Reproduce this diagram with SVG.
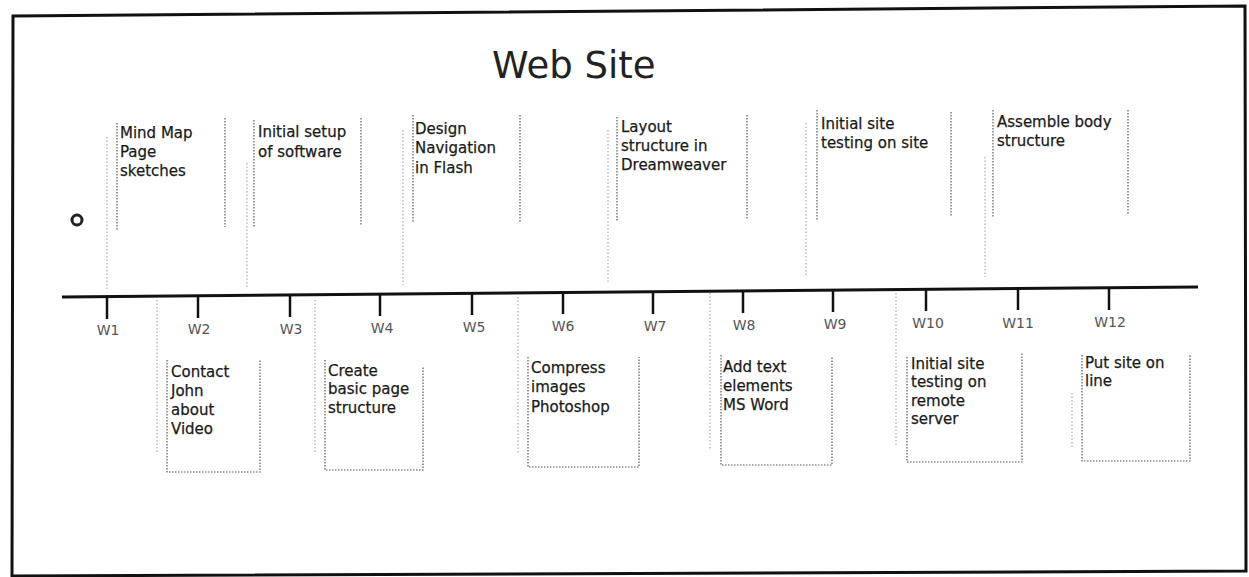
<svg xmlns="http://www.w3.org/2000/svg" width="1249" height="577" viewBox="0 0 1249 577">
<style>
.t{font-family:"DejaVu Sans","Liberation Sans",sans-serif;font-size:15px;fill:#1a1a1a;stroke:#1a1a1a;stroke-width:0.25}
.title{font-family:"DejaVu Sans","Liberation Sans",sans-serif;font-size:37px;fill:#222}
.wk{font-family:"DejaVu Sans","Liberation Sans",sans-serif;font-size:14px;fill:#555;text-anchor:middle}
.bx{fill:none;stroke:#555;stroke-width:1.2;stroke-dasharray:1.5 1.5}
.ld{fill:none;stroke:#999;stroke-width:1;stroke-dasharray:1.5 2}
.tick{stroke:#111;stroke-width:2.5}
</style>
<rect width="1249" height="577" fill="#fff"/>
<polygon id="frame" points="13,16 1245,6 1246,571 12,576" fill="none" stroke="#111" stroke-width="3"/>
<text id="title" class="title" x="492" y="78">Web Site</text>
<g id="marker-symbol"><circle cx="77" cy="220" r="5" fill="#fff" stroke="#222" stroke-width="3"/></g>

<g id="timeline">
<line x1="62" y1="297" x2="1198" y2="287" stroke="#111" stroke-width="3"/>
<line class="tick" x1="107" y1="296" x2="107" y2="319"/>
<line class="tick" x1="198" y1="295" x2="198" y2="318"/>
<line class="tick" x1="290" y1="294" x2="290" y2="317"/>
<line class="tick" x1="380" y1="293" x2="380" y2="316"/>
<line class="tick" x1="472" y1="292" x2="472" y2="315"/>
<line class="tick" x1="563" y1="292" x2="563" y2="314"/>
<line class="tick" x1="653" y1="291" x2="653" y2="314"/>
<line class="tick" x1="743" y1="290" x2="743" y2="313"/>
<line class="tick" x1="833" y1="289" x2="833" y2="312"/>
<line class="tick" x1="926" y1="288" x2="926" y2="311"/>
<line class="tick" x1="1018" y1="288" x2="1018" y2="310"/>
<line class="tick" x1="1109" y1="287" x2="1109" y2="310"/>
<text class="wk" x="108" y="335">W1</text>
<text class="wk" x="199" y="334">W2</text>
<text class="wk" x="291" y="334">W3</text>
<text class="wk" x="382" y="333">W4</text>
<text class="wk" x="474" y="332">W5</text>
<text class="wk" x="563" y="331">W6</text>
<text class="wk" x="655" y="331">W7</text>
<text class="wk" x="744" y="330">W8</text>
<text class="wk" x="835" y="329">W9</text>
<text class="wk" x="928" y="328">W10</text>
<text class="wk" x="1018" y="328">W11</text>
<text class="wk" x="1110" y="327">W12</text>
</g>

<g id="connectors">
<line class="ld" x1="107" y1="137" x2="107" y2="290"/>
<line class="ld" x1="247" y1="163" x2="247" y2="288"/>
<line class="ld" x1="403" y1="130" x2="403" y2="285"/>
<line class="ld" x1="608" y1="130" x2="608" y2="283"/>
<line class="ld" x1="806" y1="123" x2="806" y2="277"/>
<line class="ld" x1="985" y1="157" x2="985" y2="277"/>
<line class="ld" x1="157" y1="300" x2="157" y2="453"/>
<line class="ld" x1="315" y1="300" x2="315" y2="453"/>
<line class="ld" x1="518" y1="297" x2="518" y2="453"/>
<line class="ld" x1="710" y1="293" x2="710" y2="450"/>
<line class="ld" x1="896" y1="293" x2="896" y2="447"/>
<line class="ld" x1="1072" y1="393" x2="1072" y2="447"/>
</g>

<g id="task-mindmap">
<path class="bx" d="M117,123V230M225,118V227"/>
<text class="t" x="120" y="138">Mind Map</text>
<text class="t" x="120" y="157">Page</text>
<text class="t" x="120" y="176">sketches</text>
</g>
<g id="task-setup">
<path class="bx" d="M254,120V227M361,118V225"/>
<text class="t" x="258" y="137">Initial setup</text>
<text class="t" x="258" y="157">of software</text>
</g>
<g id="task-navigation">
<path class="bx" d="M413,115V223M520,115V223"/>
<text class="t" x="415" y="134">Design</text>
<text class="t" x="415" y="153">Navigation</text>
<text class="t" x="415" y="173">in Flash</text>
</g>
<g id="task-layout">
<path class="bx" d="M617,117V222M747,115V220"/>
<text class="t" x="621" y="132">Layout</text>
<text class="t" x="621" y="151">structure in</text>
<text class="t" x="621" y="170">Dreamweaver</text>
</g>
<g id="task-testing-site">
<path class="bx" d="M817,110V220M951,112V217"/>
<text class="t" x="821" y="129">Initial site</text>
<text class="t" x="821" y="148">testing on site</text>
</g>
<g id="task-assemble">
<path class="bx" d="M993,110V218M1128,110V215"/>
<text class="t" x="997" y="127">Assemble body</text>
<text class="t" x="997" y="146">structure</text>
</g>

<g id="task-contact">
<path class="bx" d="M167,360V472H260V360"/>
<text class="t" x="171" y="377">Contact</text>
<text class="t" x="171" y="396">John</text>
<text class="t" x="171" y="415">about</text>
<text class="t" x="171" y="434">Video</text>
</g>
<g id="task-create">
<path class="bx" d="M325,360V470H423V367"/>
<text class="t" x="328" y="376">Create</text>
<text class="t" x="328" y="394">basic page</text>
<text class="t" x="328" y="413">structure</text>
</g>
<g id="task-compress">
<path class="bx" d="M528,357V467H639V357"/>
<text class="t" x="531" y="373">Compress</text>
<text class="t" x="531" y="392">images</text>
<text class="t" x="531" y="412">Photoshop</text>
</g>
<g id="task-addtext">
<path class="bx" d="M721,355V465H832V357"/>
<text class="t" x="723" y="372">Add text</text>
<text class="t" x="723" y="391">elements</text>
<text class="t" x="723" y="410">MS Word</text>
</g>
<g id="task-testing-remote">
<path class="bx" d="M907,357V462H1022V352"/>
<text class="t" x="911" y="369">Initial site</text>
<text class="t" x="911" y="387">testing on</text>
<text class="t" x="911" y="406">remote</text>
<text class="t" x="911" y="424">server</text>
</g>
<g id="task-online">
<path class="bx" d="M1082,355V461H1190V355"/>
<text class="t" x="1085" y="368">Put site on</text>
<text class="t" x="1085" y="386">line</text>
</g>
</svg>
